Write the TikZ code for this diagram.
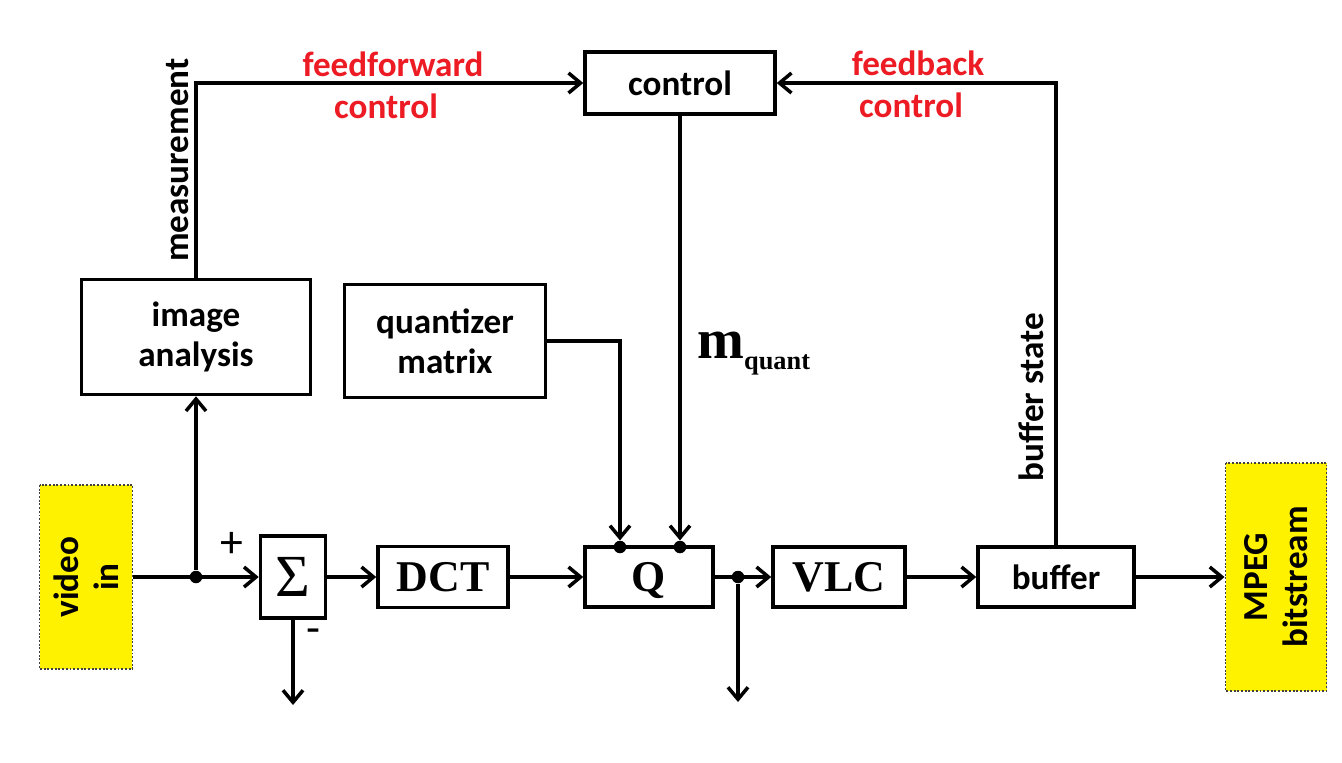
\documentclass[tikz,border=0pt]{standalone}
\usepackage{fontspec}
\setmainfont{Carlito}
\newfontfamily\timesfont{Liberation Serif}
\usetikzlibrary{arrows.meta}
%
\definecolor{labelred}{RGB}{237,28,36}
\definecolor{ioyellow}{RGB}{255,242,0}
%
\tikzset{
  block/.style={draw, line width=2pt, inner sep=0pt, align=center,
                font=\bfseries\fontsize{20}{23}\selectfont},
  opblock/.style={block, text height=16.5pt, text depth=0pt,
                  font=\timesfont\bfseries\fontsize{25}{25}\selectfont},
  iobox/.style={fill=ioyellow, draw=black!75, densely dotted, line width=1.1pt,
                rotate=90, inner sep=0pt, align=center,
                font=\bfseries\fontsize{20}{23}\selectfont},
  dot/.style={circle, fill, inner sep=0pt, minimum size=0.25cm},
  signal/.style={line width=2pt, -{Straight Barb[length=2.4mm,width=4mm]}},
  redlabel/.style={text=labelred, font=\bfseries\fontsize{20}{23}\selectfont},
  sidelabel/.style={rotate=90, font=\bfseries\fontsize{20}{23}\selectfont},
}
%
\begin{document}
\begin{tikzpicture}[x=0.02cm, y=-0.02cm]%{{{
\useasboundingbox [fill=white] (0,0) rectangle (1342,762);
%
% Blocs
\node [iobox, minimum width=3.68cm, minimum height=1.86cm] (video) at (86,577) {video\\in};
\node [block, minimum width=4.58cm, minimum height=2.30cm] (analysis) at (196,337) {image\\analysis};
\node [block, minimum width=4.02cm, minimum height=2.26cm] (qmat) at (445,341) {quantizer\\matrix};
\node [block, minimum width=3.80cm, minimum height=1.24cm] (control) at (680,83) {control};
\node [block, minimum width=1.30cm, minimum height=1.64cm,
       font=\timesfont\fontsize{34}{34}\selectfont] (sigma) at (293,577) {Σ};
\node [opblock, minimum width=2.60cm, minimum height=1.22cm] (dct) at (443,577) {DCT};
\node [opblock, minimum width=2.56cm, minimum height=1.20cm] (quant) at (649,577) {Q};
\node [opblock, minimum width=2.64cm, minimum height=1.20cm] (vlc) at (839,577) {VLC};
\node [block, minimum width=3.12cm, minimum height=1.20cm] (buffer) at (1056,577) {buffer};
\node [iobox, minimum width=4.56cm, minimum height=2.02cm] (mpeg) at (1276,577) {MPEG\\bitstream};
%
% Points
\node [dot] (split) at (196,577) {};
\node [dot] (tap)   at (738,577) {};
\node [dot] (qin1)  at (620,547) {};
\node [dot] (qin2)  at (680,547) {};
\coordinate (sigout) at (293,705);
\coordinate (tapout) at (738,702);
%
% Chaine principale
\draw [signal] (video) -- (sigma);
\draw [signal] (sigma) -- (dct);
\draw [signal] (dct) -- (quant);
\draw [signal] (quant) -- (vlc);
\draw [signal] (vlc) -- (buffer);
\draw [signal] (buffer) -- (mpeg);
\draw [signal] (sigma) -- (sigout);
\draw [signal] (tap) -- (tapout);
\draw [signal] (split) -- (analysis);
%
% Commande
\draw [signal] (analysis) |- (control);
\draw [signal] (buffer) |- (control);
\draw [signal] (qmat) -| (qin1);
\draw [signal] (control.south -| qin2) -- (qin2);
%
% Textes
\node [redlabel] (ffa) at (393,64)  {feedforward};
\node [redlabel] (ffb) at (386,106) {control};
\node [redlabel] (fba) at (918,63)  {feedback};
\node [redlabel] (fbb) at (911,105) {control};
\node [sidelabel] (meas) at (178,160) {measurement};
\node [sidelabel] (bstate) at (1031,397) {buffer state};
\node (plus)  at (232,545) {\fontsize{26}{26}\selectfont +};
\node (minus) at (313,636) {\fontsize{26}{26}\selectfont -};
\node [anchor=base west, inner sep=0pt] (mq) at (697,358)
      {\timesfont\bfseries\fontsize{32}{32}\selectfont m\raisebox{-0.2em}{\fontsize{15}{15}\selectfont quant}};
%
\end{tikzpicture}
\end{document}
